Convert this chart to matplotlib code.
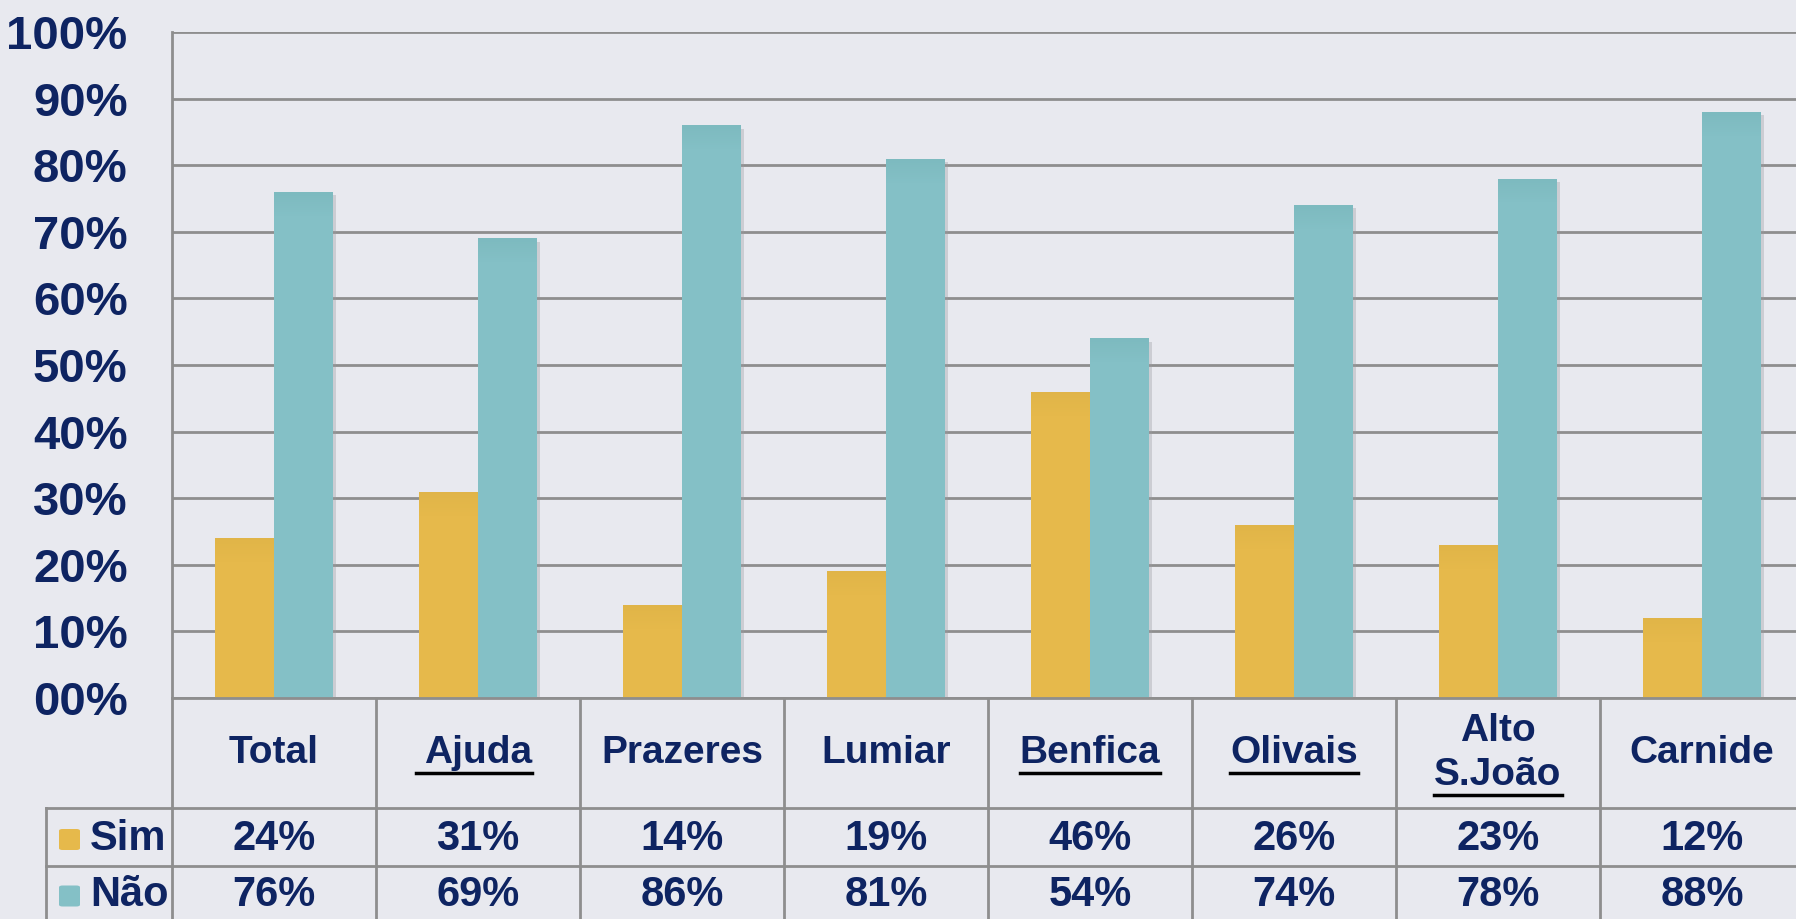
import matplotlib
matplotlib.use("Agg")
import matplotlib.pyplot as plt
from matplotlib.lines import Line2D
from matplotlib.patches import FancyBboxPatch
from matplotlib import transforms
import numpy as np

# ___ data
categories = ["Total", "Ajuda", "Prazeres", "Lumiar", "Benfica", "Olivais", "Alto\nS.João", "Carnide"]
underlined = [False, True, False, False, True, True, True, False]
sim = [24, 31, 14, 19, 46, 26, 23, 12]
nao = [76, 69, 86, 81, 54, 74, 78, 88]
series_names = ["Sim", "Não"]
yticks = [0, 10, 20, 30, 40, 50, 60, 70, 80, 90, 100]
ytick_labels = ["00%", "10%", "20%", "30%", "40%", "50%", "60%", "70%", "80%", "90%", "100%"]

bg = "#E8E9EF"
gold = "#E6B94B"
teal = "#84C0C6"
navy = "#0E2462"
grid = "#8E8E8E"
font = "Liberation Sans"

W, H = 1796, 919
fig = plt.figure(figsize=(W / 100, H / 100), dpi=100, facecolor=bg)

def fx(px):
    return px / W

def fy(py):
    return 1 - py / H

ax_left, ax_right, ax_top, ax_bot = 172, 1804, 32, 698
ax = fig.add_axes([fx(ax_left), fy(ax_bot), fx(ax_right - ax_left), (ax_bot - ax_top) / H])
ax.set_facecolor(bg)
ax.set_xlim(-0.5, len(categories) - 0.5)
ax.set_ylim(0, 100)

x = np.arange(len(categories))
bw = 0.29

# shadows
for vals, off in ((sim, -bw / 2), (nao, bw / 2)):
    ax.bar(x + off + 0.012, vals, bw, bottom=-0.5, color="#9A9AA0", alpha=0.35, zorder=2, linewidth=0)

ax.bar(x - bw / 2, sim, bw, color=gold, zorder=3, linewidth=0)
ax.bar(x + bw / 2, nao, bw, color=teal, zorder=3, linewidth=0)

# darker top edge (bevel look)
n = 12
for vals, off, dark in ((sim, -bw / 2, "#C9A23A"), (nao, bw / 2, "#5E9EA2")):
    for k in range(n):
        a = 0.5 * (1 - k / n)
        ax.bar(x + off, [0.3] * len(vals), bw, bottom=[v - 0.3 * (k + 1) for v in vals],
               color=dark, alpha=a * 0.35, zorder=4, linewidth=0)

ax.set_yticks(yticks)
ax.set_yticklabels(ytick_labels)
ax.tick_params(axis="y", length=0, pad=32, labelsize=34, labelcolor=navy)
for t in ax.get_yticklabels():
    t.set_fontfamily(font)
    t.set_fontweight("bold")
ax.set_xticks([])
ax.yaxis.grid(True, color=grid, linewidth=2, zorder=1)
ax.set_axisbelow(True)
for s in ("top", "right", "bottom"):
    ax.spines[s].set_visible(False)
ax.spines["left"].set_color(grid)
ax.spines["left"].set_linewidth(2)

# ___ data table
row_header_bot, row_sim_bot, row_nao_bot = 808, 866, 925
legend_left = 46
lw = 2
trans = transforms.blended_transform_factory(ax.transData, fig.transFigure)

def hline(x0, x1, py):
    fig.add_artist(Line2D([fx(x0), fx(x1)], [fy(py), fy(py)], color=grid, linewidth=lw))

hline(ax_left, W + 10, ax_bot)
hline(legend_left, W + 10, row_header_bot)
hline(legend_left, W + 10, row_sim_bot)
fig.add_artist(Line2D([fx(legend_left)] * 2, [fy(row_header_bot), fy(row_nao_bot)], color=grid, linewidth=lw))
for i in range(len(categories) + 1):
    fig.add_artist(Line2D([i - 0.5] * 2, [fy(ax_bot), fy(row_nao_bot)], color=grid,
                          linewidth=lw, transform=trans))

fig.canvas.draw()
renderer = fig.canvas.get_renderer()

for i, (cat, ul) in enumerate(zip(categories, underlined)):
    t = fig.text(i, fy((ax_bot + row_header_bot) / 2), cat, transform=trans, ha="center", va="center",
                 fontsize=28, fontweight="bold", color=navy, family=font, linespacing=1.3)
    if ul:
        bb = t.get_window_extent(renderer)
        last = cat.split("\n")[-1]
        tmp = fig.text(0, 0, last, fontsize=28, fontweight="bold", family=font)
        lwid = tmp.get_window_extent(renderer).width
        tmp.remove()
        cx = (bb.x0 + bb.x1) / 2
        extra = 8 if cat == "Ajuda" else 0
        y_ul = bb.y0 - 2
        fig.add_artist(Line2D([(cx - lwid / 2 - extra) / W, (cx + lwid / 2) / W], [y_ul / H, y_ul / H],
                              color="black", linewidth=2.5))

row_centres = [(row_header_bot + row_sim_bot) / 2 + 2, (row_sim_bot + row_nao_bot - 6) / 2 + 3]
for vals, yc, name, col in zip((sim, nao), row_centres, series_names, (gold, teal)):
    for i, v in enumerate(vals):
        fig.text(i, fy(yc), f"{v}%", transform=trans, ha="center", va="center",
                 fontsize=30, fontweight="bold", color=navy, family=font)
    fig.add_artist(FancyBboxPatch((fx(59), fy(yc + 11)), fx(21), 21 / H,
                                  boxstyle="round,pad=0,rounding_size=0.002", facecolor=col,
                                  edgecolor="none", transform=fig.transFigure))
    fig.text(fx(90), fy(yc), name, ha="left", va="center", fontsize=30, fontweight="bold",
             color=navy, family=font)

fig.savefig("out.png", dpi=100, facecolor=bg)
